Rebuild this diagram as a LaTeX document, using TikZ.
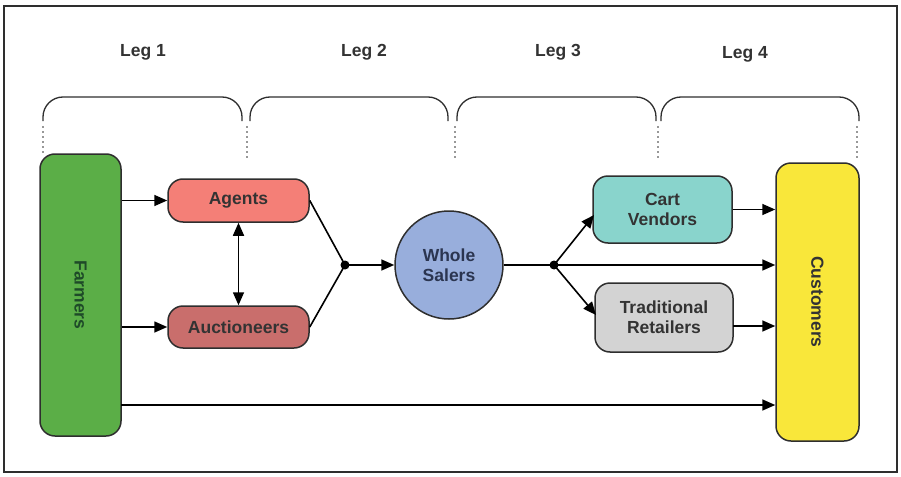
\documentclass[tikz,border=0pt]{standalone}
\usepackage{fontspec}
\setmainfont{Liberation Sans}
\usetikzlibrary{arrows.meta,calc}
\definecolor{farmgreen}{HTML}{5BAE47}
\definecolor{farmtext}{HTML}{1E4A28}
\definecolor{custyellow}{HTML}{F9E73A}
\definecolor{agentred}{HTML}{F47F77}
\definecolor{auctred}{HTML}{C96E6C}
\definecolor{wsblue}{HTML}{98AEDC}
\definecolor{wstext}{HTML}{2B3550}
\definecolor{cartteal}{HTML}{89D4CC}
\definecolor{tradgray}{HTML}{D3D3D3}
\definecolor{txt}{HTML}{333333}
\definecolor{edge}{HTML}{2E2E2E}
\tikzset{
  lbl/.style={font=\bfseries\fontsize{17.5}{20}\selectfont, text=txt},
  boxnode/.style={draw=edge, line width=1.5pt, rounded corners=15pt, lbl, align=center, inner sep=0pt},
  arr/.style={line width=1.6pt, draw=black, -{Triangle[length=13pt,width=11pt]}},
  dbl/.style={line width=1.6pt, draw=black, {Triangle[length=13pt,width=11pt]}-{Triangle[length=13pt,width=11pt]}},
  ln/.style={line width=1.6pt, draw=black},
  bracepath/.style={line width=1.3pt, draw=edge, rounded corners=20pt},
  dots/.style={line width=1.8pt, draw=edge, line cap=round, dash pattern=on 0pt off 5pt},
  junc/.style={circle, fill=black, inner sep=0pt, minimum size=9pt}
}
\begin{document}
\begin{tikzpicture}[x=1pt,y=-1pt]
\useasboundingbox (0,0) rectangle (901,476);
\draw[line width=1.6pt, draw=edge] (4,6) rectangle (897,472);

% Leg labels
\node[lbl] (leg1) at (143,52) {Leg 1};
\node[lbl] (leg2) at (364,52) {Leg 2};
\node[lbl] (leg3) at (558,52) {Leg 3};
\node[lbl] (leg4) at (745,54) {Leg 4};

% braces
\draw[bracepath] (43,121) -- (43,97) -- (242,97) -- (242,121);
\draw[bracepath] (250,121) -- (250,97) -- (448,97) -- (448,121);
\draw[bracepath] (457,121) -- (457,97) -- (656,97) -- (656,121);
\draw[bracepath] (661,121) -- (661,97) -- (859,97) -- (859,121);

% dotted guides
\draw[dots] (43,127) -- (43,156);
\draw[dots] (247,127) -- (247,158);
\draw[dots] (455,127) -- (455,158);
\draw[dots] (658,127) -- (658,158);
\draw[dots] (857,127) -- (857,158);

% nodes
\node[boxnode, fill=farmgreen, minimum width=81pt, minimum height=282pt] (farm) at (80.5,295) {};
\node[lbl, text=farmtext, rotate=-90] (farmlbl) at (farm.center) {Farmers};
\node[boxnode, fill=custyellow, minimum width=83pt, minimum height=278pt] (cust) at (817.5,302) {};
\node[lbl, text=txt, rotate=-90] (custlbl) at (cust.center) {Customers};
\node[boxnode, fill=agentred, minimum width=141pt, minimum height=43pt] (agents) at (238.5,200.5) {Agents};
\node[boxnode, fill=auctred, minimum width=141pt, minimum height=42pt] (auct) at (238.5,327) {Auctioneers};
\node[circle, draw=edge, line width=1.5pt, fill=wsblue, minimum size=108pt, lbl, text=wstext, align=center, inner sep=0pt] (ws) at (449,265) {Whole\\Salers};
\node[boxnode, fill=cartteal, minimum width=139pt, minimum height=67pt] (cart) at (662.5,209.5) {Cart\\Vendors};
\node[boxnode, fill=tradgray, minimum width=138pt, minimum height=69pt] (trad) at (664,317.5) {Traditional\\Retailers};
\node[junc] (j1) at (345,265) {};
\node[junc] (j2) at (554,265) {};
\coordinate (fb) at (121,405);
\coordinate (tcw) at (594,215);
\coordinate (trw) at (596,315);
\coordinate (te) at (733,326);

% connectors
\draw[arr] (agents.west -| farm.east) -- (agents.west);
\draw[arr] (auct.west -| farm.east) -- (auct.west);
\draw[dbl] (agents.south) -- (auct.north);
\draw[ln] (agents.east) -- (j1.center);
\draw[ln] (auct.east) -- (j1.center);
\draw[arr] (j1.center) -- (ws.west);
\draw[ln] (ws.east) -- (j2.center);
\draw[arr] (j2.center) -- (tcw);
\draw[arr] (j2.center) -- (trw);
\draw[arr] (j2.center) -- (j2 -| cust.west);
\draw[arr] (cart.east) -- (cart.east -| cust.west);
\draw[arr] (te) -- (te -| cust.west);
\draw[arr] (fb) -- (fb -| cust.west);
\end{tikzpicture}
\end{document}
